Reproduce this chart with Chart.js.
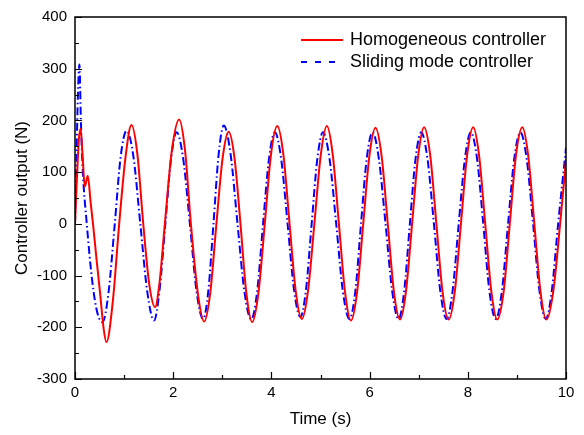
<!DOCTYPE html>
<html>
<head>
<meta charset="utf-8">
<script src="https://cdn.jsdelivr.net/npm/chart.js@4/dist/chart.umd.min.js"></script>
<style>
  html, body { margin: 0; padding: 0; background: #fff; }
  #wrap { width: 584px; height: 435px; }
</style>
</head>
<body>
<div id="wrap"><canvas id="chart"></canvas></div>
<script>
// time (s) and controller output (N)
const homTime = [0, 0.04, 0.08, 0.115, 0.15, 0.2, 0.26, 0.32, 0.37, 0.44, 0.51, 0.58, 0.64,
  0.77, 0.9, 1.03, 1.15, 1.27, 1.39, 1.51, 1.63, 1.72, 1.83, 1.97, 2.12,
  2.24, 2.36, 2.5, 2.63, 2.755, 2.88, 3.005, 3.13, 3.25, 3.37, 3.49, 3.61,
  3.735, 3.865, 3.99, 4.12, 4.245, 4.37, 4.495, 4.62, 4.745, 4.875, 5.005, 5.13,
  5.25, 5.375, 5.5, 5.62, 5.745, 5.87, 5.995, 6.12, 6.245, 6.37, 6.495, 6.62,
  6.74, 6.865, 6.99, 7.11, 7.235, 7.36, 7.485, 7.61, 7.735, 7.86, 7.985, 8.11,
  8.23, 8.355, 8.48, 8.6, 8.73, 8.855, 8.98, 9.11, 9.23, 9.355, 9.48, 9.6,
  9.74, 9.88, 10];
const homForce = [0, 90, 165, 184, 140, 72, 93, 40, -3, -70, -133, -200, -229,
  -150, 0, 130, 191, 135, 0, -115, -161, -115, 0, 140, 202,
  143, 0, -133, -189, -133, 0, 126, 178, 126, 0, -134, -190,
  -134, 0, 133, 189, 133, 0, -130, -184, -130, 0, 133, 189,
  133, 0, -132, -187, -132, 0, 131, 186, 131, 0, -131, -185,
  -131, 0, 132, 187, 132, 0, -131, -185, -131, 0, 132, 187,
  132, 0, -131, -185, -131, 0, 132, 187, 132, 0, -131, -185,
  -131, 0, 124];

const smcTime = [0, 0.03, 0.06, 0.09, 0.12, 0.16, 0.24, 0.35, 0.45, 0.56,
  0.68, 0.81, 0.93, 1.05, 1.19, 1.33, 1.47, 1.61, 1.72, 1.84, 1.955, 2.07,
  2.205, 2.34, 2.475, 2.61, 2.715, 2.82, 2.925, 3.03, 3.17, 3.31, 3.45, 3.59,
  3.71, 3.83, 3.95, 4.07, 4.2, 4.33, 4.46, 4.59, 4.705, 4.82, 4.935, 5.05,
  5.185, 5.32, 5.455, 5.59, 5.71, 5.825, 5.94, 6.06, 6.19, 6.325, 6.46, 6.59,
  6.705, 6.82, 6.935, 7.05, 7.18, 7.31, 7.44, 7.57, 7.69, 7.815, 7.94, 8.06,
  8.19, 8.315, 8.44, 8.57, 8.695, 8.82, 8.945, 9.07, 9.2, 9.33, 9.46, 9.59,
  9.71, 9.84, 10];
const smcForce = [0, 130, 250, 308, 200, 100, 0, -110, -170, -190,
  -135, 0, 130, 180, 130, 0, -130, -187, -130, 0, 125, 177,
  125, 0, -130, -184, -130, 0, 134, 190, 134, 0, -131, -185,
  -131, 0, 125, 177, 125, 0, -127, -180, -127, 0, 125, 177,
  125, 0, -130, -184, -130, 0, 125, 177, 125, 0, -130, -184,
  -130, 0, 125, 177, 125, 0, -130, -184, -130, 0, 125, 177,
  125, 0, -130, -184, -130, 0, 125, 177, 125, 0, -130, -184,
  -130, 0, 147];

const seriesNames = ['Homogeneous controller', 'Sliding mode controller'];
const xTickValues = [0, 2, 4, 6, 8, 10];
const yTickValues = [-300, -200, -100, 0, 100, 200, 300, 400];

const pts = (xs, ys) => xs.map((x, i) => ({x: x, y: ys[i]}));
const fontName = '"Liberation Sans", Arial, sans-serif';

// box + inward ticks + legend inside plot
const decor = {
  id: 'decor',
  afterDraw(chart) {
    const ctx = chart.ctx;
    const a = chart.chartArea;
    const xs = chart.scales.x, ys = chart.scales.y;
    ctx.save();
    ctx.strokeStyle = '#000';
    ctx.lineWidth = 1.5;
    ctx.strokeRect(a.left, a.top, a.right - a.left, a.bottom - a.top);
    ctx.lineWidth = 1.2;
    ctx.beginPath();
    xs.ticks.forEach(t => {
      const px = Math.round(xs.getPixelForValue(t.value)) + 0.5;
      const len = xTickValues.includes(t.value) ? 7 : 4;
      ctx.moveTo(px, a.bottom);
      ctx.lineTo(px, a.bottom - len);
    });
    ys.ticks.forEach(t => {
      const py = Math.round(ys.getPixelForValue(t.value)) + 0.5;
      const len = yTickValues.includes(t.value) ? 7 : 4;
      ctx.moveTo(a.left, py);
      ctx.lineTo(a.left + len, py);
    });
    ctx.stroke();

    // legend
    ctx.font = '18px ' + fontName;
    ctx.textBaseline = 'middle';
    ctx.fillStyle = '#000';
    chart.data.datasets.forEach((ds, i) => {
      const y = a.top + 23 + i * 22;
      ctx.strokeStyle = ds.borderColor;
      ctx.lineWidth = 2;
      ctx.setLineDash(i === 1 ? [6, 8] : []);
      ctx.beginPath();
      ctx.moveTo(a.left + 226, y);
      ctx.lineTo(a.left + 268, y);
      ctx.stroke();
      ctx.setLineDash([]);
      ctx.fillText(ds.label, a.left + 275, y);
    });
    ctx.restore();
  }
};

new Chart(document.getElementById('chart'), {
  type: 'line',
  data: {
    datasets: [{
      label: seriesNames[0],
      data: pts(homTime, homForce),
      borderColor: '#ff0000',
      borderWidth: 2,
      pointRadius: 0,
      cubicInterpolationMode: 'monotone'
    }, {
      label: seriesNames[1],
      data: pts(smcTime, smcForce),
      borderColor: '#0000ff',
      borderWidth: 2,
      borderDash: [8, 3, 1.5, 3],
      pointRadius: 0,
      cubicInterpolationMode: 'monotone'
    }]
  },
  options: {
    responsive: true,
    maintainAspectRatio: false,
    animation: false,
    layout: { padding: { top: 17, right: 18, left: 0, bottom: 0 } },
    plugins: { legend: { display: false }, tooltip: { enabled: false } },
    scales: {
      x: {
        type: 'linear',
        min: 0, max: 10,
        afterFit: s => { s.height = 56; },
        grid: { display: false, drawTicks: false },
        border: { display: false },
        ticks: {
          stepSize: 1,
          autoSkip: false,
          maxRotation: 0,
          padding: 5,
          color: '#000',
          font: { family: fontName, size: 15 },
          callback: v => xTickValues.includes(v) ? String(v) : ''
        },
        title: {
          display: true,
          text: 'Time (s)',
          color: '#000',
          font: { family: fontName, size: 17 },
          padding: { top: 0, bottom: 5 }
        }
      },
      y: {
        min: -300, max: 400,
        afterFit: s => { s.width = 75; },
        grid: { display: false, drawTicks: false },
        border: { display: false },
        ticks: {
          stepSize: 50,
          autoSkip: false,
          padding: 8,
          color: '#000',
          font: { family: fontName, size: 15 },
          callback: v => yTickValues.includes(v) ? String(v) : ''
        },
        title: {
          display: true,
          text: 'Controller output (N)',
          color: '#000',
          font: { family: fontName, size: 17 },
          padding: { top: 12, bottom: 0 }
        }
      }
    }
  },
  plugins: [decor]
});
</script>
</body>
</html>
